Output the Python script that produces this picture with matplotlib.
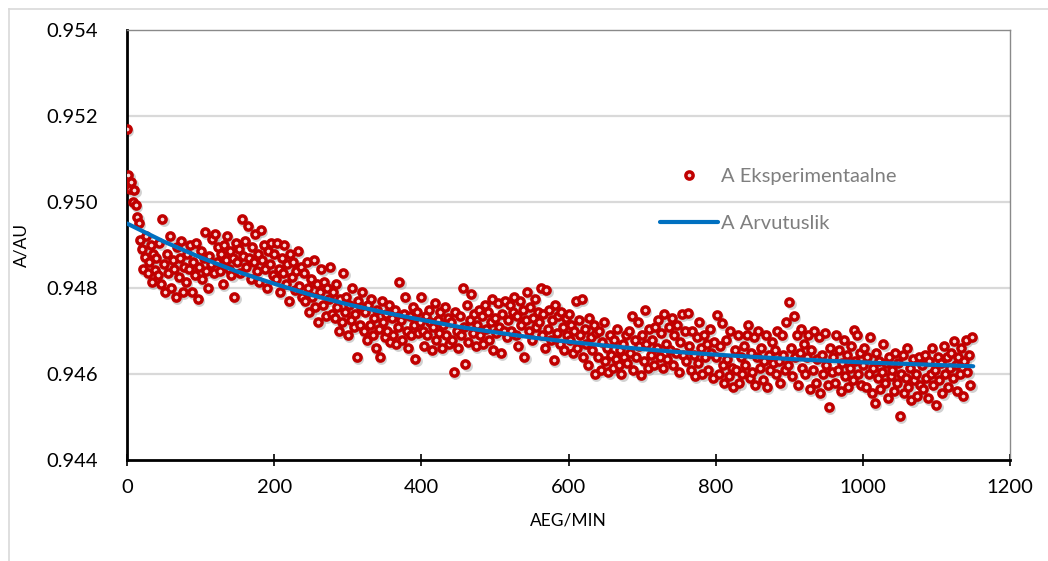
import numpy as np
import matplotlib
matplotlib.use("Agg")
import matplotlib.pyplot as plt
from matplotlib.lines import Line2D
import matplotlib.transforms as mtransforms

plt.rcParams['font.family'] = ['Lato', 'DejaVu Sans']

# ---- data ----
t_step = 2
A_exp = [
    0.95169, 0.95063, 0.95030, 0.95047, 0.95000, 0.95028, 0.94993, 0.94965, 0.94951, 0.94912,
    0.94890, 0.94845, 0.94872, 0.94920, 0.94835, 0.94860, 0.94900, 0.94815, 0.94880, 0.94842,
    0.94870, 0.94830, 0.94905, 0.94810, 0.94960, 0.94855, 0.94790, 0.94880, 0.94835, 0.94920,
    0.94800, 0.94865, 0.94845, 0.94780, 0.94895, 0.94825, 0.94870, 0.94910, 0.94790, 0.94850,
    0.94815, 0.94880, 0.94845, 0.94900, 0.94790, 0.94860, 0.94830, 0.94905, 0.94775, 0.94850,
    0.94885, 0.94820, 0.94870, 0.94930, 0.94840, 0.94800, 0.94875, 0.94855, 0.94915, 0.94835,
    0.94925, 0.94860, 0.94895, 0.94840, 0.94880, 0.94810, 0.94900, 0.94865, 0.94920, 0.94845,
    0.94885, 0.94830, 0.94870, 0.94780, 0.94905, 0.94860, 0.94890, 0.94835, 0.94960, 0.94875,
    0.94910, 0.94850, 0.94945, 0.94870, 0.94820, 0.94895, 0.94860, 0.94925, 0.94840, 0.94880,
    0.94815, 0.94935, 0.94865, 0.94900, 0.94845, 0.94800, 0.94885, 0.94855, 0.94905, 0.94830,
    0.94880, 0.94820, 0.94905, 0.94845, 0.94790, 0.94870, 0.94835, 0.94900, 0.94810, 0.94855,
    0.94770, 0.94880, 0.94825, 0.94860, 0.94795, 0.94840, 0.94885, 0.94805, 0.94850, 0.94780,
    0.94835, 0.94770, 0.94860, 0.94800, 0.94745, 0.94820, 0.94780, 0.94865, 0.94755, 0.94810,
    0.94720, 0.94790, 0.94845, 0.94760, 0.94815, 0.94735, 0.94800, 0.94775, 0.94850, 0.94740,
    0.94790, 0.94730, 0.94810, 0.94755, 0.94700, 0.94775, 0.94720, 0.94835, 0.94745, 0.94780,
    0.94690, 0.94760, 0.94725, 0.94800, 0.94710, 0.94740, 0.94640, 0.94770, 0.94715, 0.94755,
    0.94790, 0.94700, 0.94745, 0.94680, 0.94760, 0.94715, 0.94775, 0.94690, 0.94730, 0.94660,
    0.94750, 0.94705, 0.94640, 0.94770, 0.94720, 0.94685, 0.94740, 0.94700, 0.94760, 0.94675,
    0.94730, 0.94690, 0.94750, 0.94670, 0.94710, 0.94815, 0.94725, 0.94680, 0.94740, 0.94780,
    0.94700, 0.94660, 0.94735, 0.94690, 0.94755, 0.94715, 0.94635, 0.94745, 0.94695, 0.94720,
    0.94780, 0.94700, 0.94665, 0.94735, 0.94690, 0.94750, 0.94720, 0.94655, 0.94710, 0.94765,
    0.94680, 0.94725, 0.94695, 0.94745, 0.94660, 0.94715, 0.94755, 0.94690, 0.94730, 0.94670,
    0.94720, 0.94680, 0.94605, 0.94745, 0.94700, 0.94660, 0.94735, 0.94690, 0.94800, 0.94710,
    0.94623, 0.94760, 0.94675, 0.94725, 0.94785, 0.94695, 0.94740, 0.94665, 0.94715, 0.94750,
    0.94690, 0.94735, 0.94670, 0.94760, 0.94705, 0.94745, 0.94680, 0.94720, 0.94775, 0.94655,
    0.94730, 0.94695, 0.94765, 0.94710, 0.94650, 0.94740, 0.94700, 0.94770, 0.94685, 0.94725,
    0.94760, 0.94700, 0.94745, 0.94780, 0.94690, 0.94735, 0.94665, 0.94770, 0.94715, 0.94750,
    0.94640, 0.94725, 0.94790, 0.94700, 0.94755, 0.94680, 0.94730, 0.94775, 0.94710, 0.94745,
    0.94720, 0.94800, 0.94690, 0.94740, 0.94660, 0.94795, 0.94705, 0.94750, 0.94680, 0.94725,
    0.94633, 0.94760, 0.94695, 0.94735, 0.94670, 0.94745, 0.94710, 0.94655, 0.94730, 0.94690,
    0.94740, 0.94680, 0.94715, 0.94650, 0.94700, 0.94770, 0.94660, 0.94725, 0.94690, 0.94775,
    0.94640, 0.94705, 0.94670, 0.94620, 0.94730, 0.94685, 0.94655, 0.94715, 0.94600, 0.94695,
    0.94640, 0.94700, 0.94610, 0.94675, 0.94720, 0.94630, 0.94660, 0.94605, 0.94690, 0.94645,
    0.94615, 0.94680, 0.94635, 0.94705, 0.94620, 0.94655, 0.94600, 0.94670, 0.94640, 0.94690,
    0.94625, 0.94700, 0.94650, 0.94735, 0.94610, 0.94680, 0.94640, 0.94720, 0.94665, 0.94598,
    0.94690, 0.94630, 0.94749, 0.94670, 0.94615, 0.94705, 0.94645, 0.94680, 0.94620, 0.94710,
    0.94660, 0.94725, 0.94640, 0.94695, 0.94615, 0.94740, 0.94670, 0.94635, 0.94710, 0.94655,
    0.94730, 0.94620, 0.94690, 0.94650, 0.94715, 0.94605, 0.94675, 0.94740, 0.94645, 0.94700,
    0.94630, 0.94742, 0.94665, 0.94610, 0.94700, 0.94645, 0.94595, 0.94685, 0.94625, 0.94720,
    0.94660, 0.94600, 0.94690, 0.94640, 0.94670, 0.94610, 0.94705, 0.94650, 0.94590, 0.94675,
    0.94640, 0.94737, 0.94600, 0.94665, 0.94719, 0.94620, 0.94580, 0.94680, 0.94635, 0.94595,
    0.94700, 0.94615, 0.94570, 0.94655, 0.94610, 0.94690, 0.94580, 0.94640, 0.94600, 0.94665,
    0.94620, 0.94690, 0.94715, 0.94590, 0.94650, 0.94605, 0.94685, 0.94575, 0.94640, 0.94700,
    0.94615, 0.94660, 0.94585, 0.94630, 0.94690, 0.94570, 0.94645, 0.94610, 0.94675, 0.94625,
    0.94655, 0.94600, 0.94700, 0.94630, 0.94580, 0.94690, 0.94645, 0.94610, 0.94720, 0.94620,
    0.94767, 0.94660, 0.94595, 0.94735, 0.94640, 0.94690, 0.94575, 0.94650, 0.94705, 0.94615,
    0.94670, 0.94600, 0.94640, 0.94690, 0.94565, 0.94655, 0.94610, 0.94700, 0.94580, 0.94635,
    0.94685, 0.94555, 0.94645, 0.94600, 0.94695, 0.94620, 0.94575, 0.94523, 0.94660, 0.94605,
    0.94640, 0.94580, 0.94690, 0.94610, 0.94655, 0.94560, 0.94625, 0.94680, 0.94595, 0.94645,
    0.94570, 0.94615, 0.94665, 0.94585, 0.94702, 0.94630, 0.94690, 0.94600, 0.94650, 0.94575,
    0.94620, 0.94660, 0.94570, 0.94640, 0.94600, 0.94685, 0.94555, 0.94615, 0.94533, 0.94650,
    0.94590, 0.94630, 0.94565, 0.94605, 0.94670, 0.94580, 0.94625, 0.94545, 0.94640, 0.94595,
    0.94610, 0.94560, 0.94650, 0.94580, 0.94625, 0.94502, 0.94600, 0.94645, 0.94555, 0.94590,
    0.94660, 0.94570, 0.94615, 0.94540, 0.94635, 0.94585, 0.94600, 0.94550, 0.94640, 0.94575,
    0.94620, 0.94565, 0.94645, 0.94590, 0.94545, 0.94630, 0.94600, 0.94660, 0.94575, 0.94610,
    0.94528, 0.94640, 0.94585, 0.94625, 0.94555, 0.94665, 0.94600, 0.94640, 0.94570, 0.94615,
    0.94650, 0.94590, 0.94677, 0.94620, 0.94560, 0.94640, 0.94600, 0.94660, 0.94550, 0.94630,
    0.94680, 0.94605, 0.94645, 0.94575, 0.94686,
]
t_exp = np.arange(len(A_exp)) * t_step

t_fit = [0, 50, 100, 150, 200, 250, 300, 350, 400, 450, 500, 550,
         600, 650, 700, 750, 800, 850, 900, 950, 1000, 1050, 1100, 1150]
A_fit = [0.94950, 0.94908, 0.94871, 0.94838, 0.94810, 0.94784, 0.94762, 0.94743,
         0.94726, 0.94710, 0.94697, 0.94685, 0.94675, 0.94666, 0.94658, 0.94651,
         0.94645, 0.94640, 0.94635, 0.94631, 0.94627, 0.94624, 0.94621, 0.94618]

x_ticks = [0, 200, 400, 600, 800, 1000, 1200]
y_ticks = [0.944, 0.946, 0.948, 0.950, 0.952, 0.954]
label_exp = "A Eksperimentaalne"
label_fit = "A Arvutuslik"
x_label = "AEG/MIN"
y_label = "A/AU"

# ---- figure ----
W, H = 1048, 561
fig = plt.figure(figsize=(W / 100, H / 100), dpi=100)
ax = fig.add_axes([127 / W, 1 - 460 / H, (1010 - 127) / W, (460 - 30) / H])

ax.set_xlim(0, 1200)
ax.set_ylim(0.944, 0.954)

for yv in y_ticks[1:-1]:
    ax.axhline(yv, color='#D9D9D9', lw=1.6, zorder=1)

# shadow of markers
shadow_tr = mtransforms.offset_copy(ax.transData, fig=fig, x=1.3, y=-2.0, units='dots')
ax.plot(t_exp, A_exp, ls='none', marker='o', ms=5.3, mfc='none', mec='#9a9a9a',
        mew=2.5, alpha=0.45, transform=shadow_tr, zorder=2)
ax.plot(t_exp, A_exp, ls='none', marker='o', ms=5.2, mfc='#F6D8D8', mec='#C00000',
        mew=2.5, zorder=3, label=label_exp)
ax.plot(t_fit, A_fit, color='#0070C0', lw=3.0, solid_capstyle='round', zorder=4,
        label=label_fit)

ax.set_xticks(x_ticks)
ax.set_yticks(y_ticks)
ax.set_xticklabels([str(v) for v in x_ticks])
ax.set_yticklabels([f"{v:.3f}" for v in y_ticks])
ax.tick_params(axis='x', direction='inout', length=9, width=1.2, color='black',
               labelsize=14.5, pad=9)
ax.tick_params(axis='y', length=0, labelsize=14.5, pad=21)

for s in ['left', 'bottom']:
    ax.spines[s].set_color('black')
    ax.spines[s].set_linewidth(2.0)
for s in ['top', 'right']:
    ax.spines[s].set_color('#8a8a8a')
    ax.spines[s].set_linewidth(1.0)

ax.set_xlabel(x_label, fontsize=12.5, labelpad=12)
ax.set_ylabel(y_label, fontsize=12.5, labelpad=12)

leg = ax.legend(loc='upper left', bbox_to_anchor=(660 / W, 1 - 168 / H),
                bbox_transform=fig.transFigure, frameon=False, fontsize=14.5,
                handlelength=2.9, handletextpad=0.15, labelspacing=1.5,
                borderpad=0, borderaxespad=0)
for txt in leg.get_texts():
    txt.set_color('#7F7F7F')

# outer frame of the embedded chart
fig.add_artist(Line2D([8.5 / W, 8.5 / W], [0, 1 - 9 / H], transform=fig.transFigure,
                      color='#D9D9D9', lw=1.2))
fig.add_artist(Line2D([8.5 / W, 1], [1 - 9 / H, 1 - 9 / H], transform=fig.transFigure,
                      color='#D9D9D9', lw=1.2))

fig.savefig('out.png', dpi=100)
